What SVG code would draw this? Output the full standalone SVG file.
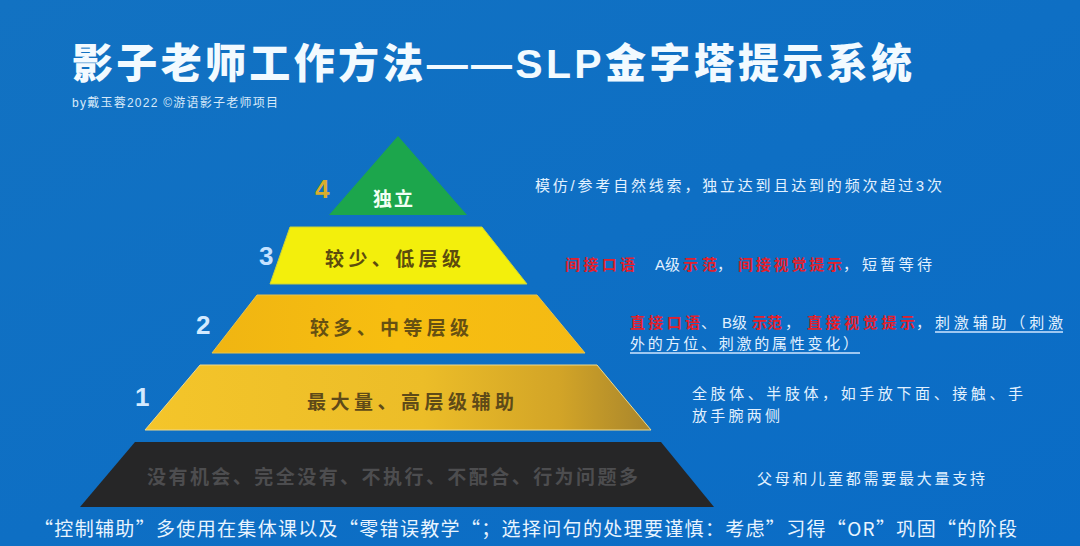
<svg xmlns="http://www.w3.org/2000/svg" width="1080" height="546" viewBox="0 0 1080 546">
<defs>
<linearGradient id="bg" x1="0" y1="0" x2="1" y2="1">
<stop offset="0" stop-color="#1272c2"/>
<stop offset="1" stop-color="#0a6cc6"/>
</linearGradient>
<linearGradient id="g1" x1="0" y1="0" x2="1" y2="0">
<stop offset="0" stop-color="#f4c52a"/>
<stop offset="0.55" stop-color="#ecbd28"/>
<stop offset="0.82" stop-color="#d2a427"/>
<stop offset="1" stop-color="#a8852c"/>
</linearGradient>
<linearGradient id="g2" x1="0" y1="0" x2="1" y2="0">
<stop offset="0" stop-color="#f0b512"/>
<stop offset="0.5" stop-color="#f7be10"/>
<stop offset="1" stop-color="#f4ba14"/>
</linearGradient>
<style>
.t{font-family:"Liberation Sans","Noto Sans CJK SC",sans-serif}
.cjk{font-family:"Noto Sans CJK SC",sans-serif}
.lab{font-family:"Noto Sans CJK SC",sans-serif;font-weight:700;font-size:19px;letter-spacing:4px}
.num{font-family:"Liberation Sans","Noto Sans CJK SC",sans-serif;font-weight:700;font-size:26px}
.side{font-family:"Liberation Sans","Noto Sans CJK SC",sans-serif;font-size:15px;fill:#e2f1ff}
.red{fill:#e3202c;font-weight:700}
.ul{stroke:#cfe6ff;stroke-width:1.5}
</style>
</defs>
<rect width="1080" height="546" fill="url(#bg)"/>

<g id="title">
<text class="t" x="72" y="78" font-size="41" font-weight="900" fill="#f2faff" textLength="840" lengthAdjust="spacing">影子老师工作方法——SLP金字塔提示系统</text>
<text class="t" x="72" y="107" font-size="12" font-weight="400" fill="#d8eafa" textLength="206" lengthAdjust="spacing">by戴玉蓉2022 ©游语影子老师项目</text>
</g>

<g id="level4">
<polygon points="398,136 467,215 329,215" fill="#1ca64c"/>
<text class="lab" x="395" y="206" font-size="17" fill="#f2fff4" text-anchor="middle" textLength="44" lengthAdjust="spacing">独立</text>
<text class="num" x="315" y="198" font-size="24" fill="#d9ad2c">4</text>
</g>

<g id="level3">
<polygon points="290,227 482,227 527,284 270,284" fill="#f3ef0c" stroke="#c9d23a" stroke-width="1"/>
<text class="lab" x="325" y="266" fill="#5c4c0e" textLength="140" lengthAdjust="spacing">较少、低层级</text>
<text class="num" x="259" y="265" fill="#c6e2ff">3</text>
</g>

<g id="level2">
<polygon points="257,295 537,295 585,353 212,353" fill="url(#g2)" stroke="#e8c34a" stroke-width="1"/>
<text class="lab" x="310" y="335" fill="#665012" textLength="163" lengthAdjust="spacing">较多、中等层级</text>
<text class="num" x="196" y="334" fill="#d4eaff">2</text>
</g>

<g id="level1">
<polygon points="200,365 597,365 651,430 145,430" fill="url(#g1)" stroke="#efd98a" stroke-width="1"/>
<text class="lab" x="307" y="409" fill="#5e4a18" textLength="211" lengthAdjust="spacing">最大量、高层级辅助</text>
<text class="num" x="135" y="406" fill="#d4eaff">1</text>
</g>

<g id="level0">
<polygon points="135,442 661,442 714,507 80,507" fill="#262627"/>
<text class="lab" x="147" y="484" font-size="18" fill="#4d4d4f" textLength="495" lengthAdjust="spacing">没有机会、完全没有、不执行、不配合、行为问题多</text>
</g>

<g id="desc4">
<text class="side" x="535" y="191" textLength="407" lengthAdjust="spacing">模仿/参考自然线索，独立达到且达到的频次超过3次</text>
</g>

<g id="desc3">
<text class="side red" x="565" y="270" textLength="70" lengthAdjust="spacing">间接口语</text>
<text class="side" x="655" y="270">A级</text>
<text class="side red" x="683" y="270" textLength="34" lengthAdjust="spacing">示范</text>
<text class="side" x="717" y="270">，</text>
<text class="side red" x="738" y="270" textLength="104" lengthAdjust="spacing">间接视觉提示</text>
<text class="side" x="843" y="270">，</text>
<text class="side" x="862" y="270" textLength="70" lengthAdjust="spacing">短暂等待</text>
</g>

<g id="desc2">
<text class="side red" x="630" y="328" textLength="70" lengthAdjust="spacing">直接口语</text>
<text class="side" x="701" y="328">、</text>
<text class="side" x="722" y="328">B级</text>
<text class="side red" x="752" y="328" textLength="30" lengthAdjust="spacing">示范</text>
<text class="side" x="785" y="328">，</text>
<text class="side red" x="807" y="328" textLength="108" lengthAdjust="spacing">直接视觉提示</text>
<text class="side" x="916" y="328">，</text>
<text class="side" x="935" y="328" textLength="128" lengthAdjust="spacing">刺激辅助（刺激</text>
<line class="ul" x1="935" y1="332" x2="1063" y2="332"/>
<text class="side" x="630" y="349" textLength="228" lengthAdjust="spacing">外的方位、刺激的属性变化）</text>
<line class="ul" x1="630" y1="353" x2="860" y2="353"/>
</g>

<g id="desc1">
<text class="side" x="692" y="399" textLength="331" lengthAdjust="spacing">全肢体、半肢体，如手放下面、接触、手</text>
<text class="side" x="692" y="421" textLength="88" lengthAdjust="spacing">放手腕两侧</text>
</g>

<g id="desc0">
<text class="side" x="757" y="484" textLength="228" lengthAdjust="spacing">父母和儿童都需要最大量支持</text>
</g>

<g id="footer">
<text class="cjk" x="34" y="536" font-size="19" fill="#e8f4ff" textLength="983" lengthAdjust="spacing">“控制辅助”多使用在集体课以及“零错误教学“；选择问句的处理要谨慎：考虑”习得“OR”巩固“的阶段</text>
</g>

<g id="connectors"/>
</svg>
